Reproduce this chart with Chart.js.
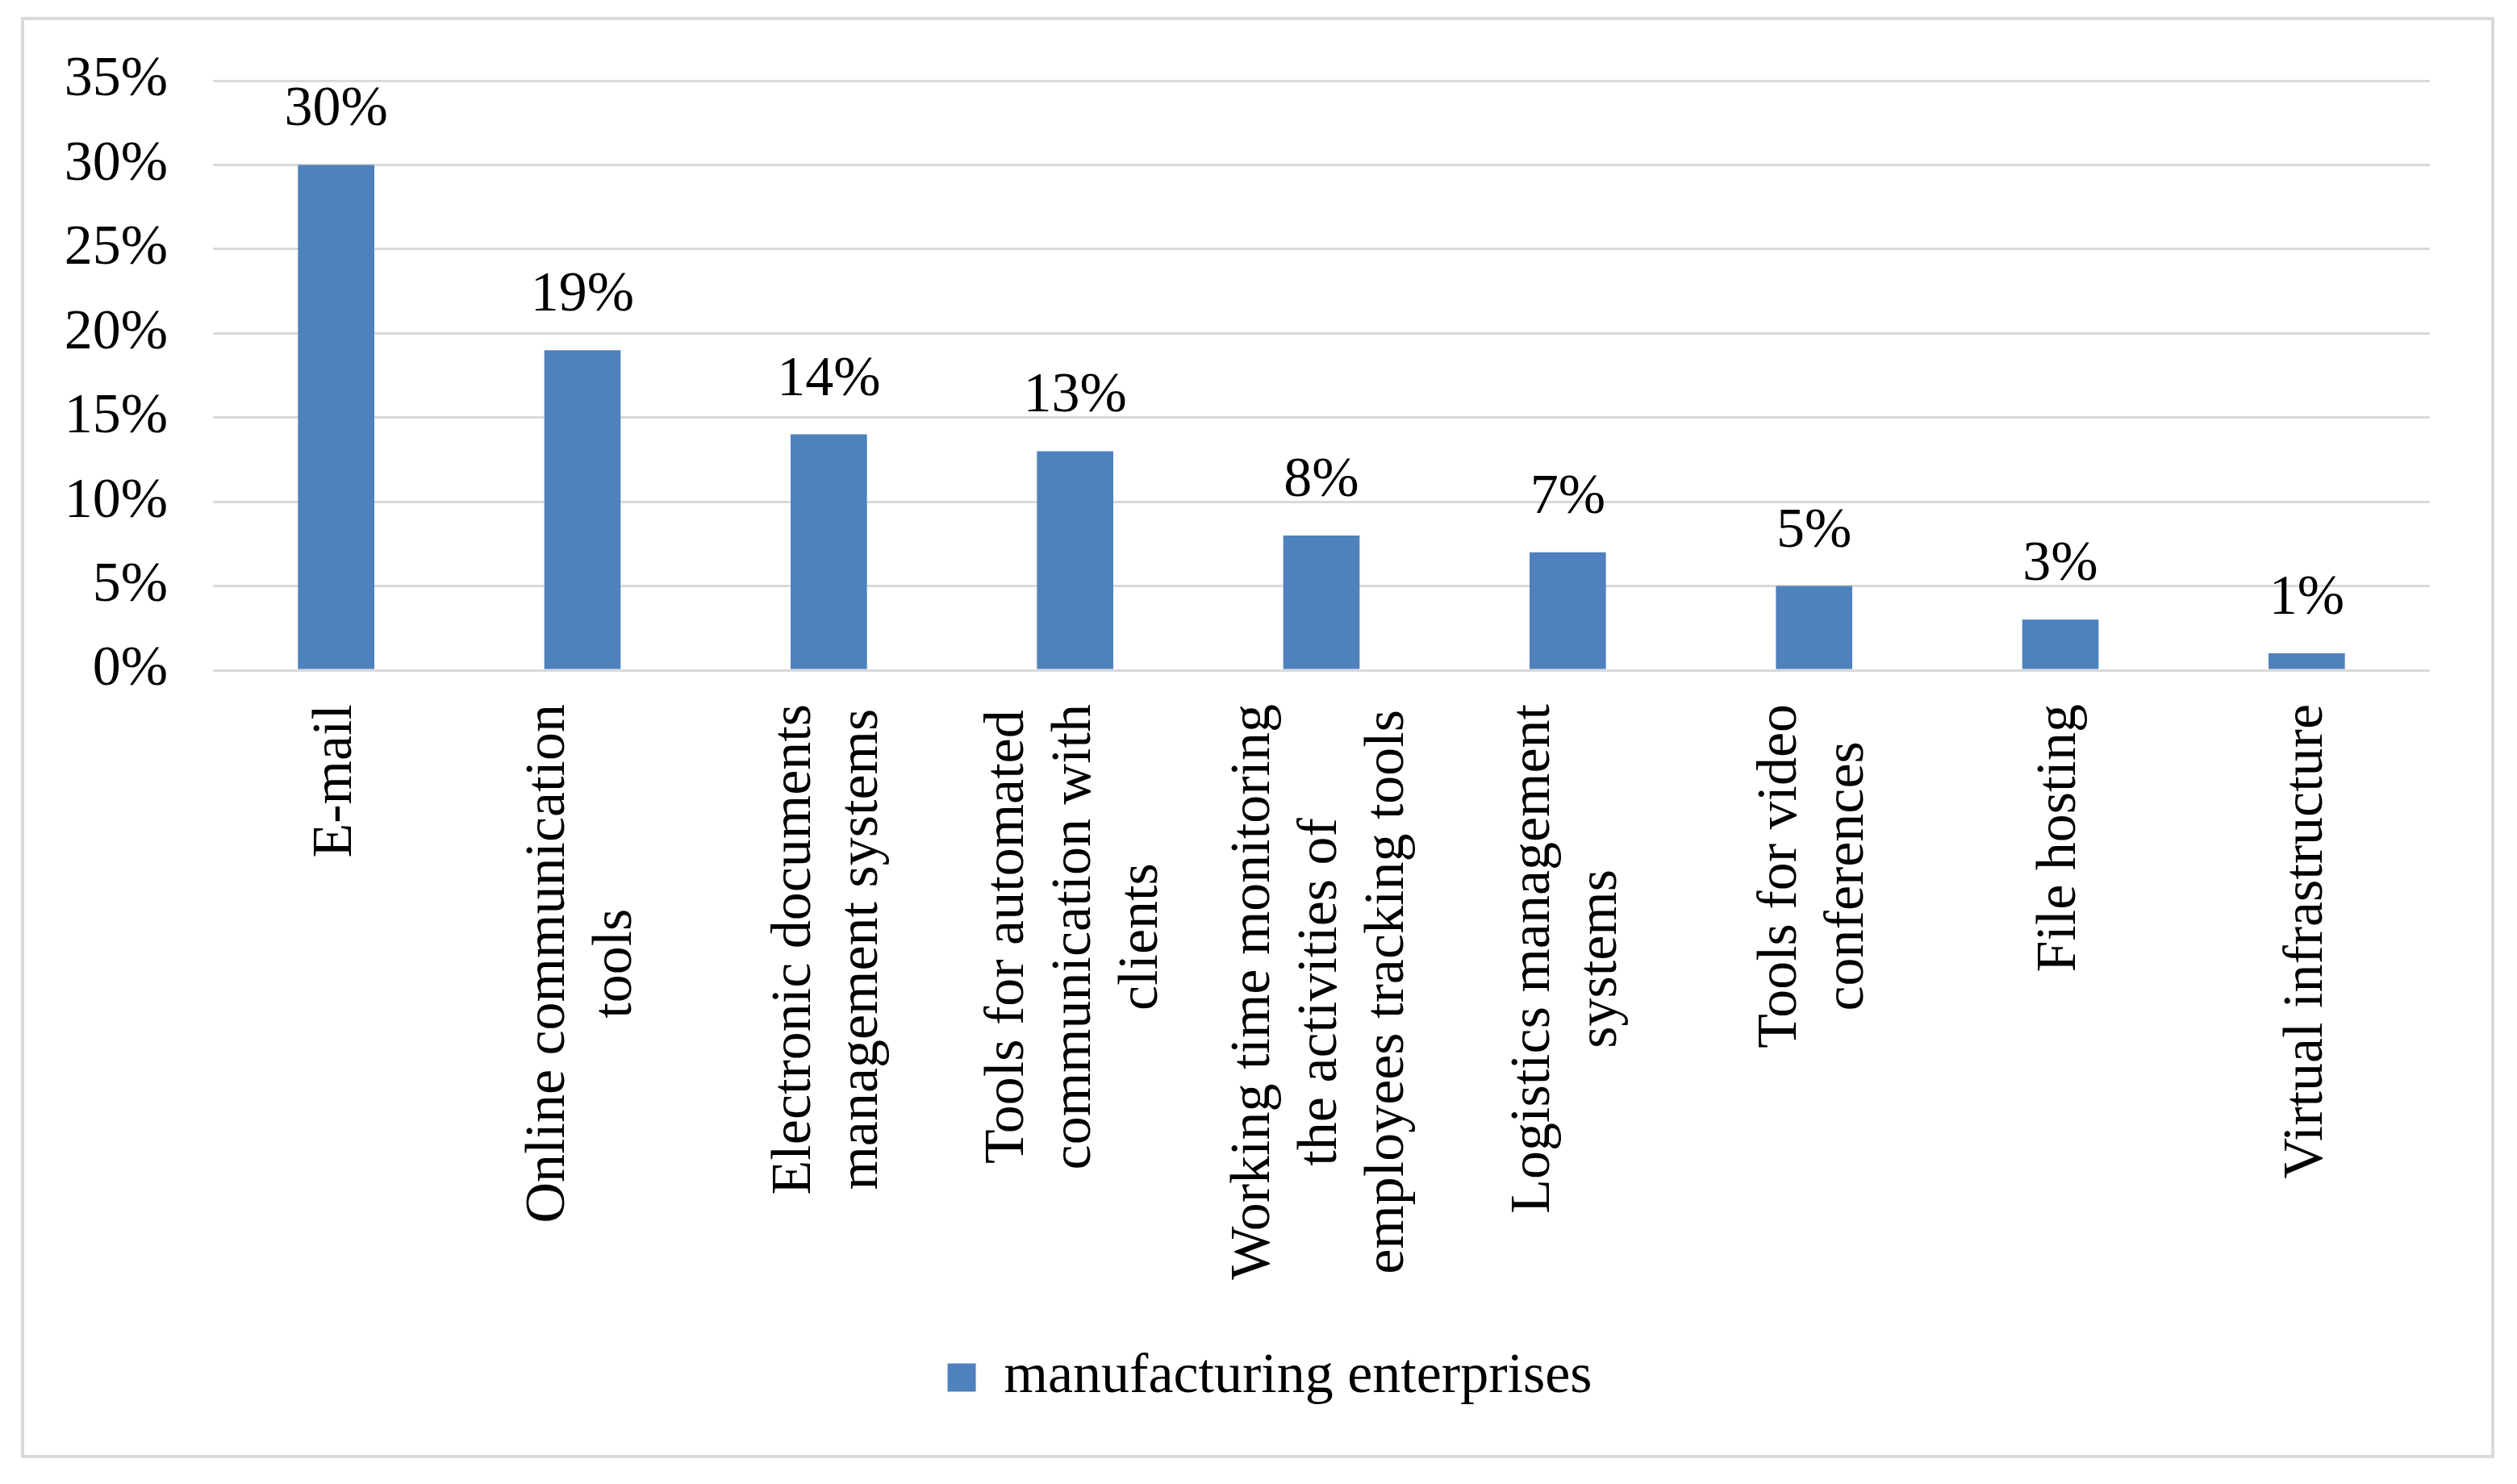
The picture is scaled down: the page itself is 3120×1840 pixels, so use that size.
<!DOCTYPE html>
<html>
<head>
<meta charset="utf-8">
<script src="https://cdn.jsdelivr.net/npm/chart.js@4.4.1/dist/chart.umd.min.js"></script>
<style>
  html, body { margin: 0; padding: 0; background: #fff; }
  #wrap { width: 3120px; height: 1840px; position: relative; }
</style>
</head>
<body>
<div id="wrap"><canvas id="toolsChart"></canvas></div>
<script>
// Category labels, already wrapped the way the picture wraps them
const categories = [
  ['E-mail'],
  ['Online communication', 'tools'],
  ['Electronic documents', 'management systems'],
  ['Tools for automated', 'communication with', 'clients'],
  ['Working time monitoring', 'the activities of', 'employees tracking tools'],
  ['Logistics management', 'systems'],
  ['Tools for video', 'conferences'],
  ['File hosting'],
  ['Virtual infrastructure']
];
const shares = [30, 19, 14, 13, 8, 7, 5, 3, 1];
const yTicks = [0, 5, 10, 15, 20, 25, 30, 35];
const seriesName = 'manufacturing enterprises';

const FONT = '"Liberation Serif", "Times New Roman", serif';
const FONT_SIZE = 70;
const BAR_COLOR = '#4f81bd';
const GRID_COLOR = '#d9d9d9';

Chart.defaults.font.family = FONT;
Chart.defaults.font.size = FONT_SIZE;
Chart.defaults.color = '#000';

// White background and the thin grey frame round the whole figure
const framePlugin = {
  id: 'frame',
  afterLayout(chart) {
    // legend sits a little right of centre in the original
    chart.legend.left += 36;
    chart.legend.right += 36;
  },
  beforeDraw(chart) {
    const c = chart.ctx;
    c.save();
    c.fillStyle = '#fff';
    c.fillRect(0, 0, chart.width, chart.height);
    c.strokeStyle = GRID_COLOR;
    c.lineWidth = 4;
    c.strokeRect(28, 23, chart.width - 58, chart.height - 57);
    c.restore();
  }
};

// Value labels above each bar
const valueLabels = {
  id: 'valueLabels',
  afterDatasetsDraw(chart) {
    const c = chart.ctx;
    const meta = chart.getDatasetMeta(0);
    c.save();
    c.font = FONT_SIZE + 'px ' + FONT;
    c.fillStyle = '#000';
    c.textAlign = 'center';
    c.textBaseline = 'alphabetic';
    meta.data.forEach((bar, i) => {
      c.fillText(shares[i] + '%', bar.x, bar.y - 49);
    });
    c.restore();
  }
};

// Rotated, centred multi-line category labels (Chart.js right-aligns rotated lines)
const categoryLabels = {
  id: 'categoryLabels',
  afterDraw(chart) {
    const c = chart.ctx;
    const xScale = chart.scales.x;
    const lineH = 83;
    c.save();
    c.font = FONT_SIZE + 'px ' + FONT;
    c.fillStyle = '#000';
    c.textAlign = 'center';
    c.textBaseline = 'middle';
    categories.forEach((lines, i) => {
      const tickX = xScale.getPixelForValue(i);
      const blockW = Math.max(...lines.map(l => c.measureText(l).width));
      c.save();
      c.translate(tickX, xScale.top + 42 + blockW / 2);
      c.rotate(-Math.PI / 2);
      lines.forEach((line, k) => {
        c.fillText(line, 0, (k - (lines.length - 1) / 2) * lineH);
      });
      c.restore();
    });
    c.restore();
  }
};

const ctx = document.getElementById('toolsChart').getContext('2d');

new Chart(ctx, {
  type: 'bar',
  data: {
    labels: categories.map(l => l.join(' ')),
    datasets: [{
      label: seriesName,
      data: shares,
      backgroundColor: BAR_COLOR,
      borderWidth: 0,
      categoryPercentage: 1,
      barPercentage: 0.31
    }]
  },
  options: {
    responsive: true,
    maintainAspectRatio: false,
    animation: false,
    layout: {
      padding: { left: 64, right: 108, top: 100, bottom: 87 }
    },
    plugins: {
      tooltip: { enabled: false },
      legend: {
        display: true,
        position: 'bottom',
        labels: {
          boxWidth: 35,
          boxHeight: 35,
          padding: 10,
          color: '#000',
          font: { size: FONT_SIZE, family: FONT }
        }
      }
    },
    scales: {
      x: {
        grid: { display: false },
        border: { display: false },
        ticks: { display: false },
        afterFit(scale) { scale.height = 832; }
      },
      y: {
        min: yTicks[0],
        max: yTicks[yTicks.length - 1],
        afterBuildTicks(scale) {
          scale.ticks = yTicks.map(v => ({ value: v }));
        },
        ticks: {
          padding: 56,
          color: '#000',
          font: { size: FONT_SIZE, family: FONT },
          callback: v => v + '%'
        },
        grid: { color: GRID_COLOR, lineWidth: 3, drawTicks: false },
        border: { display: false },
        afterFit(scale) { scale.width = 200; }
      }
    }
  },
  plugins: [framePlugin, valueLabels, categoryLabels]
});
</script>
</body>
</html>
